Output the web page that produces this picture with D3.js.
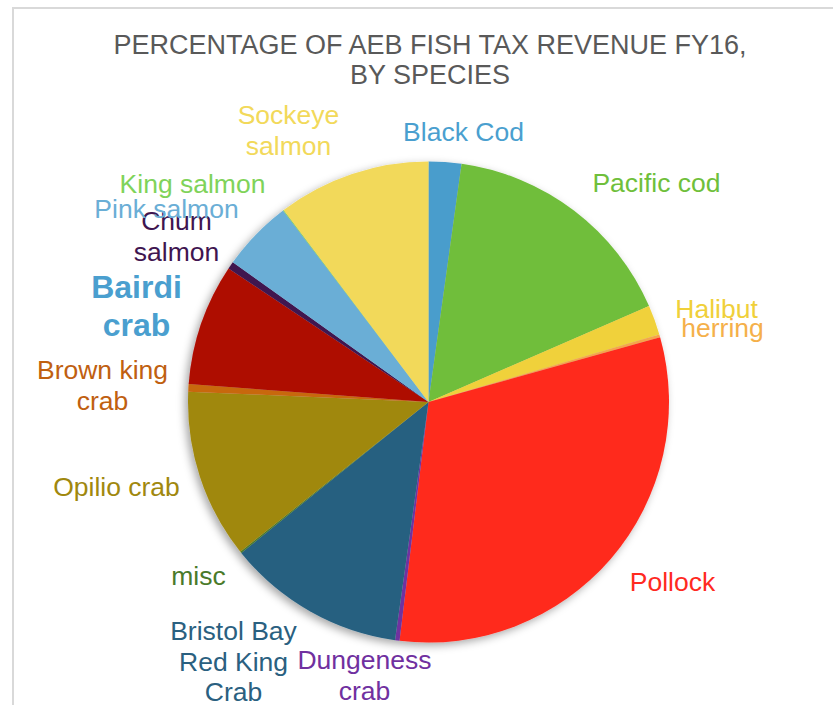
<!DOCTYPE html>
<html>
<head>
<meta charset="utf-8">
<script src="https://cdn.jsdelivr.net/npm/d3@7"></script>
<style>
  html, body { margin: 0; padding: 0; background: #fff; }
  svg { display: block; }
  text { font-family: "Liberation Sans", Arial, sans-serif; }
</style>
</head>
<body>
<script>
// Share of AEB fish tax revenue, FY16, by species (percent)
const species = [
  "Black Cod", "Pacific cod", "Halibut", "herring", "Pollock",
  "Dungeness crab", "Bristol Bay Red King Crab", "misc", "Opilio crab",
  "Brown king crab", "Bairdi crab", "Chum salmon", "Pink salmon",
  "King salmon", "Sockeye salmon"
];
const shares = [
  2.2, 16.3, 2.0, 0.2, 31.3,
  0.3, 12.0, 0.1, 11.4,
  0.5, 8.2, 0.5, 4.8,
  0.05, 10.3
];
const colors = [
  "#4a9dcc", "#6fbe3a", "#f0d13a", "#f5a54a", "#ff2a1f",
  "#7030a0", "#276080", "#4a7a2a", "#a0880e",
  "#c8680a", "#ae0a00", "#40134f", "#6aaed6",
  "#7fd35a", "#f2d95a"
];
// label text lines
const labelLines = [
  ["Black Cod"], ["Pacific cod"], ["Halibut"], ["herring"], ["Pollock"],
  ["Dungeness", "crab"], ["Bristol Bay", "Red King", "Crab"], ["misc"], ["Opilio crab"],
  ["Brown king", "crab"], ["Bairdi", "crab"], ["Chum", "salmon"], ["Pink salmon"],
  ["King salmon"], ["Sockeye", "salmon"]
];
const labelColors = [
  "#4a9fcf", "#6fbf3b", "#f0d03a", "#f5b04a", "#ff2a1f",
  "#7030a0", "#2a6080", "#4a7a2a", "#a0880e",
  "#c06010", "#4a9fcf", "#3f1550", "#6aaed6",
  "#7fd35a", "#f2d95a"
];

const W = 833, H = 705;
const cx = 428.5, cy = 402, R = 240.5;

// label layout: centre of first line baseline, relative to the pie centre
const labelLayout = [
  [35, -261], [228, -210], [288, -84], [294, -65], [244, 189],
  [-64, 267], [-195, 238], [-230, 183], [-312, 94],
  [-326, -23], [-292, -104], [-252, -172], [-262, -184],
  [-236, -209], [-140, -278]
];

const svg = d3.select("body").append("svg")
  .attr("width", W).attr("height", H);

const defs = svg.append("defs");
const shadow = defs.append("filter").attr("id", "pieShadow")
  .attr("x", "-20%").attr("y", "-20%").attr("width", "140%").attr("height", "140%");
shadow.append("feDropShadow")
  .attr("dx", -3).attr("dy", 3).attr("stdDeviation", 4)
  .attr("flood-color", "#000").attr("flood-opacity", 0.35);

// chart frame
svg.append("path")
  .attr("d", `M13,${H} V8 H${W}`)
  .attr("fill", "none").attr("stroke", "#d9d9d9").attr("stroke-width", 2);

// title
const title = svg.append("text")
  .attr("text-anchor", "middle")
  .attr("fill", "#595959")
  .style("font-size", "27px");
title.append("tspan").attr("x", 430).attr("y", 54).text("PERCENTAGE OF AEB FISH TAX REVENUE FY16,");
title.append("tspan").attr("x", 430).attr("y", 84).text("BY SPECIES");

const pie = d3.pie().sort(null).value(d => d)(shares);
const arc = d3.arc().innerRadius(0).outerRadius(R);

const g = svg.append("g").attr("transform", `translate(${cx},${cy})`);
g.append("g").attr("filter", "url(#pieShadow)")
  .selectAll("path").data(pie).join("path")
  .attr("d", arc)
  .attr("fill", (d, i) => colors[i]);

// labels
const labels = g.append("g").selectAll("text").data(pie).join("text")
  .attr("text-anchor", "middle")
  .attr("fill", (d, i) => labelColors[i])
  .style("font-size", (d, i) => species[i] === "Bairdi crab" ? "32px" : "26.5px")
  .style("font-weight", (d, i) => species[i] === "Bairdi crab" ? "bold" : "normal");

labels.each(function(d, i) {
  const t = d3.select(this);
  const [lx, ly] = labelLayout[i];
  const lh = species[i] === "Bairdi crab" ? 38 : 30.5;
  labelLines[i].forEach((line, k) => {
    t.append("tspan").attr("x", lx).attr("y", ly + k * lh).text(line);
  });
});
</script>
</body>
</html>
